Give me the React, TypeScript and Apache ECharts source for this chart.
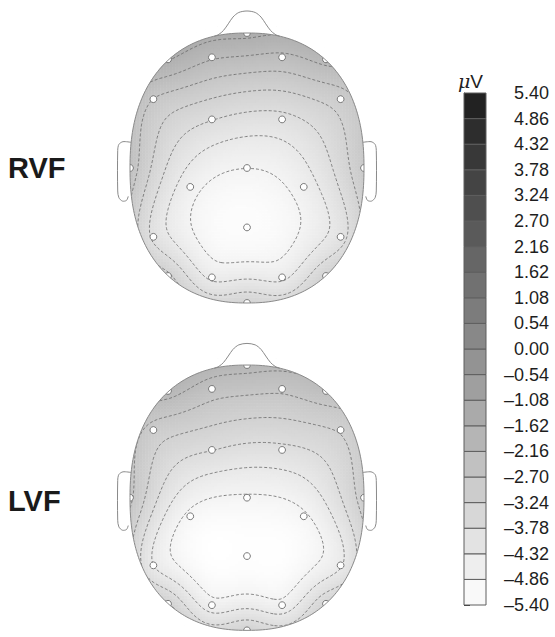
import React, { useEffect, useRef } from 'react';
import * as echarts from 'echarts';

// ---------------- data ----------------
const ELECTRODES = ['Fpz', 'Fp1', 'Fp2', 'AF7', 'AF8', 'F7', 'F8', 'F3', 'F4', 'T7', 'T8', 'Cz', 'C3', 'C4', 'Pz', 'P7', 'P8', 'O1', 'O2', 'PO7', 'PO8', 'Oz'];
// normalised scalp positions of the plotted electrodes (x: left-right, y: posterior-anterior)
const ELECTRODE_X = [0, -0.3, 0.3, -0.675, 0.675, -0.8, 0.8, -0.3, 0.3, -1, 1, 0, -0.485, 0.485, 0, -0.8, 0.8, -0.3, 0.3, -0.675, 0.675, 0];
const ELECTRODE_Y = [1, 0.82, 0.82, 0.805, 0.805, 0.51, 0.51, 0.36, 0.36, 0, 0, 0, -0.14, -0.14, -0.44, -0.51, -0.51, -0.81, -0.81, -0.8, -0.8, -1];
// potentials (µV)
const RVF_VALUES = [-1.45, -2.1, -2.3, -1.55, -1.95, -2.75, -3.0, -3.75, -3.95, -2.35, -2.75, -4.85, -4.65, -4.6, -5.25, -3.95, -4.05, -4.5, -4.5, -3.05, -3.2, -3.25];
const LVF_VALUES = [-1.95, -2.45, -2.6, -1.9, -2.3, -2.95, -3.2, -3.75, -3.9, -2.55, -2.95, -4.92, -5.0, -4.95, -5.3, -4.4, -4.45, -4.7, -4.75, -3.1, -3.25, -3.2];
// inferior electrodes below the rim (not drawn), angle in degrees around the head
const OUTER_ANGLES = [15, 45, 75, 105, 135, 165, 195, 225, 255, 285, 315, 345];
const RVF_OUTER = [-2.2, -1.6, -1.0, -0.8, -1.0, -1.6, -1.8, -2.3, -2.5, -2.55, -2.5, -2.25];
const LVF_OUTER = [-2.4, -2.0, -1.5, -1.3, -1.5, -1.9, -2.0, -2.4, -2.55, -2.6, -2.6, -2.45];
const CONDITIONS = ['RVF', 'LVF'];
const COLORBAR_TICKS = [-5.4, -4.86, -4.32, -3.78, -3.24, -2.7, -2.16, -1.62, -1.08, -0.54, 0, 0.54, 1.08, 1.62, 2.16, 2.7, 3.24, 3.78, 4.32, 4.86, 5.4];
const CONTOUR_LEVELS = COLORBAR_TICKS.slice(1, -1);
const UNIT = 'μV';

// ---------------- layout / head template ----------------
const HEAD = { cx: 247, cy: [168, 500.5], rx: 117, ry: 135, n: 2.3, outer: 1.22, smooth: 0.012 };
const UMIN = -1.2, UMAX = 1.2, VMIN = -1.05, VMAX = 1.2;
const NX = 94, NY = 101;
const NOSE = [[-0.28, 0.976], [-0.24, 0.99], [-0.2, 1.02], [-0.16, 1.068], [-0.12, 1.118], [-0.07, 1.152], [0, 1.163], [0.07, 1.152], [0.12, 1.118], [0.16, 1.068], [0.2, 1.02], [0.24, 0.99], [0.28, 0.976]];
const EAR_LEFT = [[-0.99, 0.19], [-1.06, 0.195], [-1.095, 0.175], [-1.105, 0.13], [-1.105, -0.17], [-1.095, -0.22], [-1.065, -0.245], [-1.03, -0.24], [-1.015, -0.21]];
const FONT = '"Liberation Sans", Arial, Helvetica, sans-serif';
const VMIN_C = -5.4, VMAX_C = 5.4;
const LIGHT = 255, DARK = 28;

const shapeIndex = (u: number, v: number) => Math.pow(Math.abs(u), HEAD.n) + Math.pow(Math.abs(v), HEAD.n);
const insideHead = (p: number[]) => shapeIndex(p[0], p[1]) <= 1;
const onShape = (deg: number, s: number) => {
  const t = (deg * Math.PI) / 180;
  const c = Math.cos(t), si = Math.sin(t);
  return [Math.sign(c) * Math.pow(Math.abs(c), 2 / HEAD.n) * s, Math.sign(si) * Math.pow(Math.abs(si), 2 / HEAD.n) * s];
};

function boundary(sx = 1, sy = 1, steps = 260): number[][] {
  const pts: number[][] = [];
  for (let k = 0; k < steps; k++) {
    const p = onShape((k / steps) * 360, 1);
    pts.push([p[0] * sx, p[1] * sy]);
  }
  return pts;
}

function grayFor(v: number) {
  const t = Math.max(0, Math.min(1, (v - VMIN_C) / (VMAX_C - VMIN_C)));
  const g = Math.round(LIGHT + (DARK - LIGHT) * t);
  return `rgb(${g},${g},${g})`;
}

// smoothing thin-plate spline surface through the electrode values
function fitSurface(xs: number[], ys: number[], fs: number[], lambda: number) {
  const n = xs.length, m = n + 3;
  const K = (dx: number, dy: number) => {
    const r2 = dx * dx + dy * dy;
    return r2 < 1e-12 ? 0 : 0.5 * r2 * Math.log(r2);
  };
  const A: number[][] = [];
  for (let i = 0; i < m; i++) A.push(new Array(m + 1).fill(0));
  for (let i = 0; i < n; i++) {
    for (let j = 0; j < n; j++) A[i][j] = K(xs[i] - xs[j], ys[i] - ys[j]) + (i === j ? lambda : 0);
    A[i][n] = 1; A[i][n + 1] = xs[i]; A[i][n + 2] = ys[i];
    A[n][i] = 1; A[n + 1][i] = xs[i]; A[n + 2][i] = ys[i];
    A[i][m] = fs[i];
  }
  for (let c = 0; c < m; c++) {
    let p = c;
    for (let r = c + 1; r < m; r++) if (Math.abs(A[r][c]) > Math.abs(A[p][c])) p = r;
    const tmp = A[c]; A[c] = A[p]; A[p] = tmp;
    const piv = A[c][c];
    for (let r = 0; r < m; r++) {
      if (r === c) continue;
      const f = A[r][c] / piv;
      if (f === 0) continue;
      for (let k = c; k <= m; k++) A[r][k] -= f * A[c][k];
    }
  }
  const w = A.map((row, i) => row[m] / row[i]);
  return (x: number, y: number) => {
    let s = w[n] + w[n + 1] * x + w[n + 2] * y;
    for (let i = 0; i < n; i++) s += w[i] * K(x - xs[i], y - ys[i]);
    return s;
  };
}

function isolines(vals: Float64Array, n: number, x0: number, step: number, level: number): number[][][] {
  const at = (i: number, j: number) => vals[j * n + i];
  const adj = new Map<string, string[]>();
  const pos = new Map<string, number[]>();
  const hk = (i: number, j: number) => {
    const k = 'h' + i + '_' + j;
    if (!pos.has(k)) {
      const a = at(i, j), b = at(i + 1, j);
      pos.set(k, [x0 + (i + (level - a) / (b - a)) * step, x0 + j * step]);
    }
    return k;
  };
  const vk = (i: number, j: number) => {
    const k = 'v' + i + '_' + j;
    if (!pos.has(k)) {
      const a = at(i, j), b = at(i, j + 1);
      pos.set(k, [x0 + i * step, x0 + (j + (level - a) / (b - a)) * step]);
    }
    return k;
  };
  const link = (a: string, b: string) => {
    if (!adj.has(a)) adj.set(a, []);
    if (!adj.has(b)) adj.set(b, []);
    adj.get(a)!.push(b);
    adj.get(b)!.push(a);
  };
  for (let j = 0; j < n - 1; j++) {
    for (let i = 0; i < n - 1; i++) {
      const a = at(i, j), b = at(i + 1, j), c = at(i + 1, j + 1), d = at(i, j + 1);
      const A = a >= level, B = b >= level, C = c >= level, D = d >= level;
      const bottom = A !== B ? hk(i, j) : null;
      const right = B !== C ? vk(i + 1, j) : null;
      const top = D !== C ? hk(i, j + 1) : null;
      const left = A !== D ? vk(i, j) : null;
      const es = [bottom, right, top, left].filter((e) => e !== null) as string[];
      if (es.length === 2) link(es[0], es[1]);
      else if (es.length === 4) {
        const M = (a + b + c + d) / 4 >= level;
        if (A !== M) { link(left!, bottom!); link(right!, top!); }
        else { link(bottom!, right!); link(top!, left!); }
      }
    }
  }
  const visited = new Set<string>();
  const lines: number[][][] = [];
  const walk = (start: string) => {
    const line = [pos.get(start)!];
    visited.add(start);
    let cur = start;
    for (;;) {
      const nb = adj.get(cur)!.find((k) => !visited.has(k));
      if (!nb) {
        if (cur !== start && line.length > 2 && adj.get(cur)!.includes(start)) line.push(pos.get(start)!);
        break;
      }
      visited.add(nb);
      line.push(pos.get(nb)!);
      cur = nb;
    }
    return line;
  };
  adj.forEach((nbs, k) => { if (nbs.length === 1 && !visited.has(k)) lines.push(walk(k)); });
  adj.forEach((_nbs, k) => { if (!visited.has(k)) lines.push(walk(k)); });
  return lines;
}

function clipToHead(line: number[][]): number[][][] {
  const out: number[][][] = [];
  let cur: number[][] = [];
  const cross = (a: number[], b: number[]) => {
    let lo = 0, hi = 1;
    for (let k = 0; k < 20; k++) {
      const mid = (lo + hi) / 2;
      const p = [a[0] + (b[0] - a[0]) * mid, a[1] + (b[1] - a[1]) * mid];
      if (insideHead(p)) lo = mid; else hi = mid;
    }
    return [a[0] + (b[0] - a[0]) * lo, a[1] + (b[1] - a[1]) * lo];
  };
  for (let k = 0; k < line.length; k++) {
    const p = line[k];
    if (insideHead(p)) {
      if (cur.length === 0 && k > 0) cur.push(cross(p, line[k - 1]));
      cur.push(p);
    } else if (cur.length) {
      cur.push(cross(line[k - 1], p));
      out.push(cur);
      cur = [];
    }
  }
  if (cur.length > 1) out.push(cur);
  return out.filter((l) => l.length > 1);
}

function buildMap(values: number[], outer: number[]) {
  const outerPts = OUTER_ANGLES.map((a) => onShape(a, HEAD.outer));
  const xs = ELECTRODE_X.concat(outerPts.map((p) => p[0]));
  const ys = ELECTRODE_Y.concat(outerPts.map((p) => p[1]));
  const f = fitSurface(xs, ys, values.concat(outer), HEAD.smooth);
  const heat: number[][] = [];
  const du = (UMAX - UMIN) / NX, dv = (VMAX - VMIN) / NY;
  for (let j = 0; j < NY; j++) {
    const v = VMIN + (j + 0.5) * dv;
    for (let i = 0; i < NX; i++) {
      const u = UMIN + (i + 0.5) * du;
      if (shapeIndex(u, v) <= 1.12) heat.push([i, j, Math.max(VMIN_C, Math.min(VMAX_C, f(u, v)))]);
    }
  }
  const n = 169, x0 = -1.05, step = 2.1 / (n - 1);
  const vals = new Float64Array(n * n);
  for (let j = 0; j < n; j++) for (let i = 0; i < n; i++) vals[j * n + i] = f(x0 + i * step, x0 + j * step);
  const lines: number[][][] = [];
  CONTOUR_LEVELS.forEach((lv) => {
    isolines(vals, n, x0, step, lv).forEach((l) => clipToHead(l).forEach((c) => lines.push(c)));
  });
  return { heat, lines };
}

export default function App() {
  const ref = useRef<HTMLDivElement>(null);
  useEffect(() => {
    if (!ref.current) return;
    const chart = echarts.init(ref.current, null, { renderer: 'svg' });
    const maps = [buildMap(RVF_VALUES, RVF_OUTER), buildMap(LVF_VALUES, LVF_OUTER)];
    const catX = Array.from({ length: NX }, (_, i) => i);
    const catY = Array.from({ length: NY }, (_, i) => i);
    const grids: any[] = HEAD.cy.map((cy) => ({
      left: HEAD.cx + UMIN * HEAD.rx,
      top: cy - VMAX * HEAD.ry,
      width: (UMAX - UMIN) * HEAD.rx,
      height: (VMAX - VMIN) * HEAD.ry,
    }));
    grids.push({ left: 464, top: 93, width: 22, height: 512 });

    const xAxis: any[] = [];
    const yAxis: any[] = [];
    const series: any[] = [];
    const heatIdx: number[] = [];
    const lineStyle = { stroke: '#8a8a8a', lineWidth: 1, fill: null };
    const outlinePts = boundary();
    const maskPts = boundary(1 + 4.5 / HEAD.rx, 1 + 4.5 / HEAD.ry);
    const earRight = EAR_LEFT.map((p) => [-p[0], p[1]]);

    maps.forEach((mp, g) => {
      xAxis.push({ gridIndex: g, type: 'category', data: catX, show: false });
      xAxis.push({ gridIndex: g, type: 'value', min: UMIN, max: UMAX, show: false });
      yAxis.push({ gridIndex: g, type: 'category', data: catY, show: false });
      yAxis.push({ gridIndex: g, type: 'value', min: VMIN, max: VMAX, show: false });
      heatIdx.push(series.length);
      series.push({
        type: 'heatmap', xAxisIndex: 2 * g, yAxisIndex: 2 * g, data: mp.heat,
        progressive: 0, silent: true, emphasis: { disabled: true }, itemStyle: { borderWidth: 0 },
      });
      series.push({
        type: 'custom', xAxisIndex: 2 * g + 1, yAxisIndex: 2 * g + 1, silent: true,
        data: mp.lines.map((l, i) => [l[0][0], l[0][1], i]),
        renderItem: (params: any, api: any) => {
          const l = mp.lines[params.dataIndex];
          return {
            type: 'polyline',
            shape: { points: l.map((p) => api.coord(p)) },
            style: { stroke: '#666666', lineWidth: 0.8, lineDash: [3, 2], fill: null },
          };
        },
      });
      series.push({
        type: 'custom', xAxisIndex: 2 * g + 1, yAxisIndex: 2 * g + 1, silent: true,
        data: ELECTRODE_X.map((x, i) => [x, ELECTRODE_Y[i]]),
        renderItem: (_params: any, api: any) => {
          const p = api.coord([api.value(0), api.value(1)]);
          return { type: 'circle', shape: { cx: p[0], cy: p[1], r: 3.4 }, style: { fill: '#ffffff', stroke: '#6b6b6b', lineWidth: 0.9 } };
        },
      });
      series.push({
        type: 'custom', xAxisIndex: 2 * g + 1, yAxisIndex: 2 * g + 1, silent: true,
        data: [[0, 0]],
        renderItem: (_params: any, api: any) => ({
          type: 'group',
          children: [
            { type: 'polygon', shape: { points: maskPts.map((p) => api.coord(p)) }, style: { fill: null, stroke: '#ffffff', lineWidth: 9 } },
            { type: 'polygon', shape: { points: outlinePts.map((p) => api.coord(p)) }, style: { ...lineStyle } },
            { type: 'polyline', shape: { points: EAR_LEFT.map((p) => api.coord(p)), smooth: 0.3 }, style: { ...lineStyle } },
            { type: 'polyline', shape: { points: earRight.map((p) => api.coord(p)), smooth: 0.3 }, style: { ...lineStyle } },
            { type: 'polyline', shape: { points: NOSE.map((p) => api.coord(p)), smooth: 0.3 }, style: { ...lineStyle } },
          ],
        }),
      });
    });

    // colour bar
    xAxis.push({ gridIndex: 2, type: 'value', min: 0, max: 1, show: false });
    yAxis.push({
      gridIndex: 2, type: 'value', min: VMIN_C, max: VMAX_C, interval: 0.54, position: 'right',
      axisLine: { show: true, lineStyle: { color: '#333', width: 1 } },
      axisTick: { show: true, length: 6, lineStyle: { color: '#333', width: 1 } },
      splitLine: { show: false },
      axisLabel: {
        show: true, align: 'right', margin: 63, fontSize: 18, fontFamily: FONT, color: '#1e1e1e',
        formatter: (v: number) => (v < -1e-9 ? '\u2013' : '') + Math.abs(v).toFixed(2),
      },
    });
    const segs = COLORBAR_TICKS.slice(0, -1).map((t, i) => [t, COLORBAR_TICKS[i + 1]]);
    series.push({
      type: 'custom', xAxisIndex: 4, yAxisIndex: 4, silent: true,
      data: segs,
      renderItem: (params: any, api: any) => {
        const s = segs[params.dataIndex];
        const p0 = api.coord([0, s[0]]);
        const p1 = api.coord([1, s[1]]);
        return {
          type: 'rect',
          shape: { x: p0[0], y: p1[1], width: p1[0] - p0[0], height: p0[1] - p1[1] },
          style: { fill: grayFor((s[0] + s[1]) / 2), stroke: '#5e5e5e', lineWidth: 1 },
        };
      },
    });

    chart.setOption({
      animation: false,
      backgroundColor: '#ffffff',
      grid: grids,
      xAxis,
      yAxis,
      visualMap: {
        type: 'continuous', show: false, min: VMIN_C, max: VMAX_C, seriesIndex: heatIdx, dimension: 2,
        inRange: { color: [grayFor(VMIN_C), grayFor(VMAX_C)] },
      },
      graphic: [
        ...CONDITIONS.map((c, i) => ({
          type: 'text', x: 8, y: HEAD.cy[i], silent: true,
          style: { text: c, fill: '#1a1a1a', font: `bold 29px ${FONT}`, verticalAlign: 'middle' },
        })),
        {
          type: 'text', x: 458, y: 81, silent: true,
          style: {
            text: '{m|' + UNIT.slice(0, 1) + '}{v|' + UNIT.slice(1) + '}',
            verticalAlign: 'middle',
            rich: {
              m: { fontFamily: '"DejaVu Serif", serif', fontStyle: 'italic', fontSize: 19, fill: '#222' },
              v: { fontFamily: FONT, fontSize: 19, fill: '#222' },
            },
          },
        },
      ],
      series,
    });
    return () => chart.dispose();
  }, []);
  return <div ref={ref} style={{ position: 'absolute', left: 0, top: 0, width: 555, height: 637 }} />;
}
